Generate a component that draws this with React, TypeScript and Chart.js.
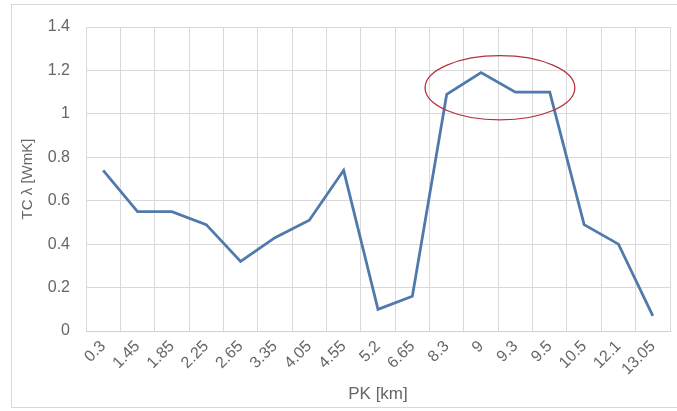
import React, { useEffect, useRef } from "react";
import { Chart, registerables } from "chart.js";

Chart.register(...registerables);

const categories = ["0.3", "1.45", "1.85", "2.25", "2.65", "3.35", "4.05", "4.55", "5.2", "6.65", "8.3", "9", "9.3", "9.5", "10.5", "12.1", "13.05"];
const tcValues = [0.74, 0.55, 0.55, 0.49, 0.32, 0.43, 0.51, 0.74, 0.1, 0.16, 1.09, 1.19, 1.1, 1.1, 0.49, 0.4, 0.07];
const yTicks = [0, 0.2, 0.4, 0.6, 0.8, 1, 1.2, 1.4];
// highlight ellipse: center (category index, value), radii (categories, value)
const highlightCenter = [11.55, 1.12];
const highlightRadii = [2.18, 0.148];

const ellipsePlugin = {
  id: "highlightEllipse",
  afterDatasetsDraw(chart: any) {
    const { ctx, scales } = chart;
    const x = scales.x, y = scales.y;
    const cx = x.getPixelForValue(highlightCenter[0]);
    const cy = y.getPixelForValue(highlightCenter[1]);
    const rx = Math.abs(x.getPixelForValue(highlightCenter[0] + highlightRadii[0]) - cx);
    const ry = Math.abs(y.getPixelForValue(highlightCenter[1] + highlightRadii[1]) - cy);
    ctx.save();
    ctx.beginPath();
    ctx.ellipse(cx, cy, rx, ry, 0, 0, Math.PI * 2);
    ctx.strokeStyle = "#b5323c";
    ctx.lineWidth = 1.3;
    ctx.stroke();
    ctx.restore();
  },
};

export default function App() {
  const ref = useRef<HTMLCanvasElement>(null);
  useEffect(() => {
    document.body.style.margin = "0";
    const font = { family: "'Liberation Sans', Arial, sans-serif", size: 16 };
    const chart = new Chart(ref.current!, {
      type: "line",
      data: {
        labels: categories,
        datasets: [
          {
            data: tcValues,
            borderColor: "#4f7aab",
            borderWidth: 2.8,
            pointRadius: 0,
            tension: 0,
            fill: false,
          },
        ],
      },
      plugins: [ellipsePlugin],
      options: {
        animation: false,
        responsive: false,
        devicePixelRatio: 1,
        layout: { padding: { left: 11, top: 27, right: 7, bottom: 0 } },
        plugins: { legend: { display: false }, tooltip: { enabled: false } },
        scales: {
          x: {
            offset: true,
            grid: { color: "#d9d9d9", offset: true, drawTicks: false },
            border: { color: "#d0d0d0" },
            ticks: { color: "#666", font, minRotation: 45, maxRotation: 45, autoSkip: false, padding: 6 },
            title: { display: true, text: "PK [km]", color: "#666", font: { ...font, size: 17 }, padding: { top: 2, bottom: 6 } },
            afterFit(scale: any) { scale.height = 80; },
          },
          y: {
            min: 0,
            max: 1.4,
            afterBuildTicks(scale: any) { scale.ticks = yTicks.map((v) => ({ value: v })); },
            grid: { color: "#d9d9d9", drawTicks: false },
            border: { display: false },
            ticks: { color: "#666", font, padding: 16, callback: (v: any) => String(Number(v)) },
            title: { display: true, text: "TC λ [WmK]", color: "#666", font: { ...font, size: 15 }, padding: { top: 8, bottom: 0 } },
            afterFit(scale: any) { scale.width = 75; },
          },
        },
      },
    });
    return () => chart.destroy();
  }, []);
  return (
    <div style={{ position: "relative", width: 677, height: 411 }}>
      <div style={{ position: "absolute", left: 11, top: 4, width: 680, height: 404, border: "1px solid #d9d9d9", boxSizing: "border-box" }} />
      <canvas ref={ref} width={677} height={411} style={{ position: "absolute", left: 0, top: 0 }} />
    </div>
  );
}
